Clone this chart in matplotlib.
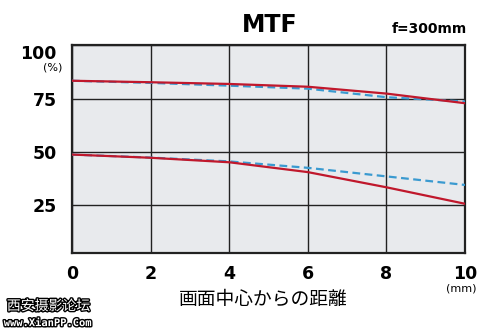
import matplotlib
matplotlib.use("Agg")
import matplotlib.pyplot as plt
import matplotlib.patheffects as pe

# image height (mm from centre) and contrast (%)
dist = [0, 2, 4, 6, 8, 10]
sag_30 = [83.3, 82.6, 81.8, 80.5, 77.3, 72.8]
mer_30 = [83.3, 82.3, 81.0, 79.6, 75.6, 73.6]
sag_10 = [48.8, 47.3, 45.2, 40.6, 33.5, 25.8]
mer_10 = [48.8, 47.4, 45.6, 42.6, 38.6, 34.6]

xticks = [0, 2, 4, 6, 8, 10]
yticks = [25, 50, 75, 100]

plt.rcParams['font.family'] = ['DejaVu Sans']

fig = plt.figure(figsize=(5.0, 3.31), dpi=100)
ax = fig.add_axes([0.144, 0.237, 0.786, 0.627])
ax.set_facecolor('#e8eaed')

red = '#c0182c'
blue = '#3a9ad0'
ax.plot(dist, mer_30, color=blue, lw=1.6, ls=(0, (3.5, 2)), zorder=3)
ax.plot(dist, sag_30, color=red, lw=1.6, zorder=4)
ax.plot(dist, mer_10, color=blue, lw=1.6, ls=(0, (3.5, 2)), zorder=3)
ax.plot(dist, sag_10, color=red, lw=1.6, zorder=4)

ax.set_xlim(0, 10)
ax.set_ylim(3, 100)
ax.set_xticks(xticks)
ax.set_yticks(yticks)
ax.set_xticklabels([str(v) for v in xticks], fontsize=12.5, fontweight='bold')
ax.set_yticklabels([str(v) for v in yticks], fontsize=12.5, fontweight='bold')
ax.get_yticklabels()[-1].set_va('top')  # keep "100" inside the frame height
ax.tick_params(length=0, pad=9)
ax.tick_params(axis='y', pad=11)
ax.grid(True, color='#222222', lw=1.0)
for s in ax.spines.values():
    s.set_color('#222222')
    s.set_linewidth(1.6)

fig.text(0.54, 0.925, 'MTF', fontsize=17, fontweight='bold', ha='center', va='center')
fig.text(0.935, 0.912, 'f=300mm', fontsize=10, fontweight='bold', ha='right', va='center')
fig.text(0.124, 0.795, '(%)', fontsize=8, ha='right', va='center')
fig.text(0.922, 0.128, '(mm)', fontsize=8, ha='center', va='center')
fig.text(0.527, 0.097, '画面中心からの距離', fontsize=13.5, ha='center', va='center',
         family=['Noto Sans CJK JP', 'DejaVu Sans'])

# forum stamp in the corner
stroke = [pe.withStroke(linewidth=2, foreground='black')]
fig.text(0.097, 0.075, '西安摄影论坛', fontsize=10, color='white', ha='center', va='center',
         family=['Noto Sans CJK SC', 'DejaVu Sans'], path_effects=stroke)
fig.text(0.095, 0.024, 'www.XianPP.Com', fontsize=7.5, color='white', ha='center', va='center',
         family=['DejaVu Sans Mono'], fontweight='bold', path_effects=stroke)

fig.savefig('out.png', dpi=100)
